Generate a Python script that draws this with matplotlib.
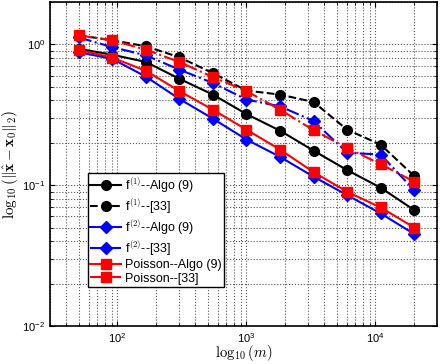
import numpy as np
import matplotlib
matplotlib.use('Agg')
import matplotlib.pyplot as plt

plt.rcParams['mathtext.fontset'] = 'cm'
plt.rcParams['font.family'] = ['Liberation Sans', 'DejaVu Sans']

# 数据
m = [50, 91, 166, 302, 549, 1000, 1820, 3310, 6030, 10980, 20000]
f1_algo = [0.93, 0.845, 0.75, 0.57, 0.44, 0.32, 0.244, 0.176, 0.128, 0.096, 0.0665]
f1_ref = [1.16, 1.07, 0.97, 0.81, 0.625, 0.47, 0.44, 0.39, 0.248, 0.194, 0.116]
f2_algo = [0.88, 0.79, 0.59, 0.41, 0.297, 0.211, 0.159, 0.115, 0.085, 0.063, 0.045]
f2_ref = [1.12, 0.957, 0.836, 0.662, 0.532, 0.406, 0.363, 0.286, 0.17, 0.165, 0.092]
poi_algo = [0.917, 0.805, 0.65, 0.466, 0.344, 0.248, 0.179, 0.124, 0.0897, 0.0695, 0.050]
poi_ref = [1.16, 1.07, 0.917, 0.75, 0.586, 0.466, 0.344, 0.246, 0.184, 0.141, 0.106]

labels = [r'f$^{(1)}$--Algo (9)', r'f$^{(1)}$--[33]',
          r'f$^{(2)}$--Algo (9)', r'f$^{(2)}$--[33]',
          'Poisson--Algo (9)', 'Poisson--[33]']

fig = plt.figure(figsize=(4.4, 3.64), dpi=100)
ax = fig.add_axes([50/440, 38/364, 387/440, 324/364])

ax.loglog(m, f1_algo, '-o', color='black', lw=1.5, ms=7, label=labels[0])
ax.loglog(m, f1_ref, '--o', color='black', lw=1.5, ms=7, label=labels[1])
ax.loglog(m, f2_algo, '-D', color='blue', lw=1.5, ms=6, label=labels[2])
ax.loglog(m, f2_ref, '-.D', color='blue', lw=1.5, ms=6, label=labels[3])
ax.loglog(m, poi_algo, '-s', color='red', lw=1.5, ms=7, label=labels[4])
ax.loglog(m, poi_ref, '-.s', color='red', lw=1.5, ms=7, label=labels[5])

ax.set_xlim(30, 3e4)
ax.set_ylim(0.01, 2)
ax.grid(True, which='both', linestyle=':', linewidth=0.8, color='#555555')
ax.tick_params(which='both', direction='in', top=True, right=True, labelsize=8)
for s in ax.spines.values():
    s.set_linewidth(1.2)

ax.set_xlabel(r'$\log_{10}(m)$', fontsize=10.5)
ax.set_ylabel(r'$\log_{10}(\|\hat{\mathbf{x}} - \mathbf{x}_0\|_2)$', fontsize=11)
ax.xaxis.set_label_coords(0.5, -0.054)
ax.yaxis.set_label_coords(-0.078, 0.5)

leg = ax.legend(loc='lower left', bbox_to_anchor=(0.097, 0.12), fontsize=9,
                fancybox=False, edgecolor='black', framealpha=1,
                handlelength=2.5, borderpad=0.2, labelspacing=0.12,
                handletextpad=0.3, borderaxespad=0)
leg.get_frame().set_linewidth(1.0)

plt.savefig('out.png', dpi=100)
